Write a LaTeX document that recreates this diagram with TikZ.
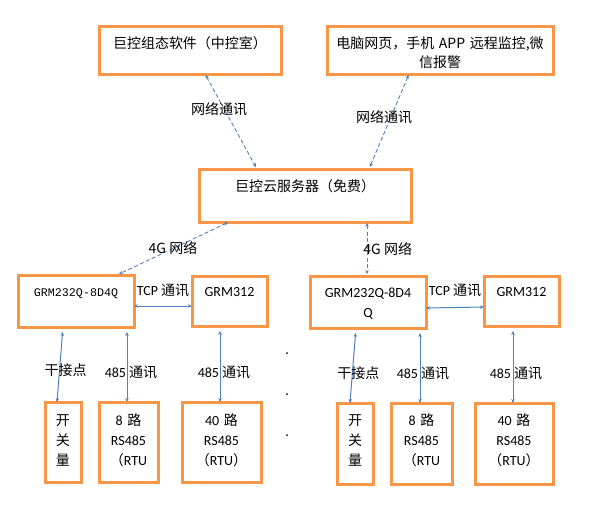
\documentclass[tikz,border=0pt]{standalone}
\usepackage{fontspec}
\setmainfont{Noto Sans CJK SC}
\newfontfamily\lat{Carlito}
\newfontfamily\mono{Liberation Mono}
\usetikzlibrary{arrows.meta}
\definecolor{boxorange}{HTML}{F79646}
\definecolor{linkblue}{HTML}{4F81BD}

\begin{document}
\begin{tikzpicture}[x=1pt,y=-1pt,
		font=\fontsize{14}{20}\selectfont,
		box/.style n args={3}{draw=boxorange,line width=3pt,inner sep=0pt,outer sep=0pt,
			anchor=north west,align=center,text width=#1,text height=#2,text depth=#3},
		net/.style={draw=linkblue,dash pattern=on 4pt off 2.5pt,line width=0.9pt,
			shorten <=1pt,shorten >=2pt,
			{Stealth[length=4pt,width=3.5pt]}-{Stealth[length=4pt,width=3.5pt]}},
		link/.style={draw=linkblue,line width=1pt,
			{Stealth[length=4pt,width=3.5pt]}-{Stealth[length=4pt,width=3.5pt]}},
		lbl/.style={inner sep=0pt}]
		\useasboundingbox (0,0) rectangle (606,525);
		% top row and cloud
		\node[box={182pt}{22.3pt}{25.7pt}] (zk) at (99,26) {巨控组态软件（中控室）};
		\node[box={226pt}{22.3pt}{25.7pt},font=\fontsize{14}{19}\selectfont] (web) at (327,26)
			{电脑网页，手机 APP 远程监控,微\\信报警};
		\node[box={212pt}{22.3pt}{30.7pt}] (cloud) at (199,169) {巨控云服务器（免费）};
		% left group
		\node[box={116pt}{21pt}{31pt}] (gwL) at (18,275) {\mono\fontsize{11.7}{14}\selectfont GRM232Q-8D4Q};
		\node[box={75pt}{20.5pt}{29.5pt}] (rtuL) at (192,276) {\lat GRM312};
		\node[box={36pt}{23.3pt}{56.7pt}] (kgL) at (45,402) {开\\关\\量};
		\node[box={59pt}{23pt}{57pt}] (r8L) at (99,402) {{\lat 8 }路\\{\lat RS485}\\（{\lat RTU}};
		\node[box={79pt}{23pt}{57pt}] (r40L) at (182,402) {{\lat 40 }路\\{\lat RS485}\\（{\lat RTU}）};
		% right group
		\node[box={116pt}{21.5pt}{30.5pt}] (gwR) at (310,276) {{\lat GRM232Q-8D4}\\{\lat Q}};
		\node[box={75pt}{20.5pt}{29.5pt}] (rtuR) at (484,276) {\lat GRM312};
		\node[box={36pt}{22.3pt}{58.7pt}] (kgR) at (337,403) {开\\关\\量};
		\node[box={61pt}{22.3pt}{58.7pt}] (r8R) at (391,403) {{\lat 8 }路\\{\lat RS485}\\（{\lat RTU}};
		\node[box={78pt}{22.3pt}{58.7pt}] (r40R) at (475,403) {{\lat 40 }路\\{\lat RS485}\\（{\lat RTU}）};
		% network links
		\draw[net] ([xshift=15pt]zk.south) -- node[lbl,pos=0.37,xshift=-5pt]{网络通讯} ([xshift=-48pt]cloud.north);
		\draw[net] ([xshift=-31pt]web.south) -- node[lbl,pos=0.45,xshift=-7pt]{网络通讯} ([xshift=64pt]cloud.north);
		\draw[net] ([xshift=-76pt]cloud.south) -- node[lbl,pos=0.5]{4G 网络} ([xshift=41pt]gwL.north);
		\draw[net] ([xshift=62pt]cloud.south) -- node[lbl,right,xshift=-4pt]{4G 网络} ([xshift=-1pt]gwR.north);
		% field links
		\draw[link] ([yshift=-5pt]gwL.east) -- node[lbl,yshift=16pt]{{\lat TCP }通讯} ([yshift=-5pt]rtuL.west);
		\draw[link,shorten <=5pt] ([xshift=-13pt]gwL.south) -- node[lbl,pos=0.57,xshift=6pt]{干接点} ([xshift=-6pt]kgL.north);
		\draw[link,shorten <=5pt] ([xshift=51pt]gwL.south) -- node[lbl,xshift=4pt,yshift=-7.5pt]{{\lat 485 }通讯} ([xshift=-1.5pt]r8L.north);
		\draw[link,shorten <=5pt] ([xshift=-9.5pt]rtuL.south) -- node[lbl,xshift=4pt,yshift=-8pt]{{\lat 485 }通讯} ([xshift=-1.5pt]r40L.north);
		\draw[link] ([yshift=-6pt]gwR.east) -- node[lbl,yshift=17pt]{{\lat TCP }通讯} ([yshift=-6pt]rtuR.west);
		\draw[link,shorten <=5pt] ([xshift=-12pt]gwR.south) -- node[lbl,pos=0.6,xshift=6pt]{干接点} ([xshift=-5pt]kgR.north);
		\draw[link,shorten <=5pt] ([xshift=52pt]gwR.south) -- node[lbl,xshift=3pt,yshift=-7.5pt]{{\lat 485 }通讯} ([xshift=-1.5pt]r8R.north);
		\draw[link,shorten <=5pt] ([xshift=-8.5pt]rtuR.south) -- node[lbl,xshift=3pt,yshift=-8.5pt]{{\lat 485 }通讯} ([xshift=-1pt]r40R.north);
		% dots between the groups
		\foreach \y in {353,394,435}
			\fill (287,\y) circle (1pt);
	\end{tikzpicture}
\end{document}
